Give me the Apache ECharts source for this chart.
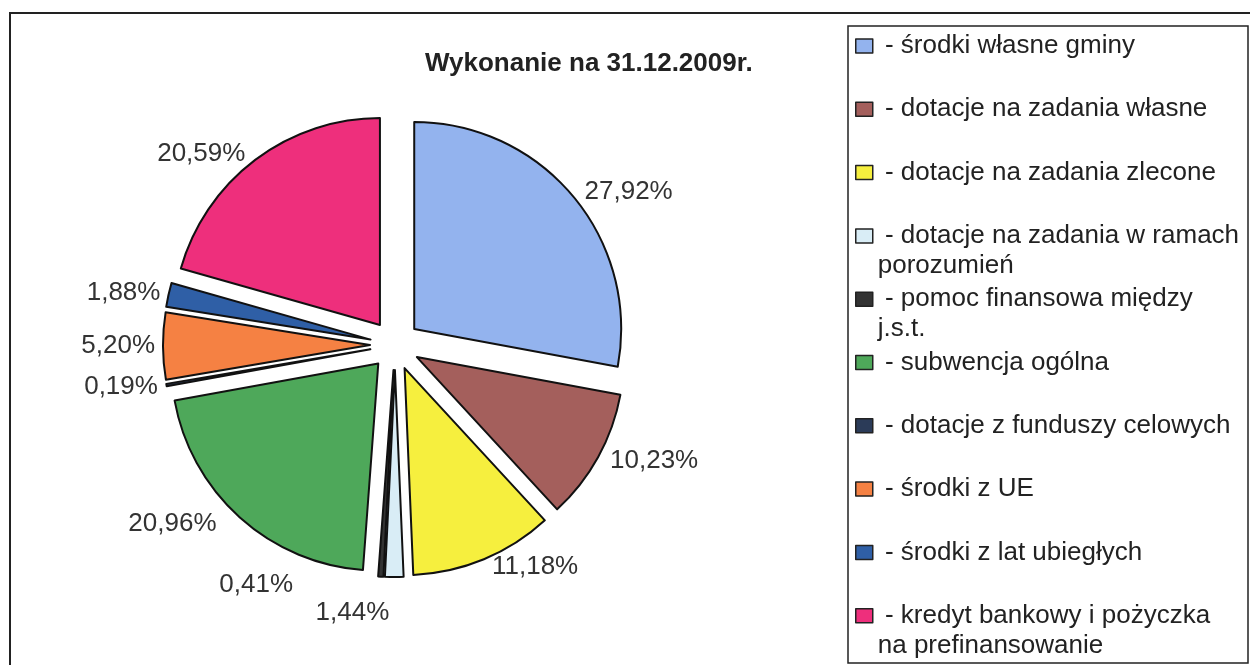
<!DOCTYPE html>
<html>
<head>
<meta charset="utf-8">
<title>Wykonanie na 31.12.2009r.</title>
<script src="https://cdn.jsdelivr.net/npm/echarts@6/dist/echarts.min.js"></script>
<style>
    html, body { margin: 0; padding: 0; background: #fff; }
    #chart1 { width: 1250px; height: 665px; }
</style>
</head>
<body>
<div id="chart1"></div>
<script>
// kategorie (kolejnosc jak w legendzie, zgodnie z ruchem wskazowek zegara)
var categories = [
    'środki własne gminy',
    'dotacje na zadania własne',
    'dotacje na zadania zlecone',
    'dotacje na zadania w ramach\nporozumień',
    'pomoc finansowa między\nj.s.t.',
    'subwencja ogólna',
    'dotacje z funduszy celowych',
    'środki z UE',
    'środki z lat ubiegłych',
    'kredyt bankowy i pożyczka\nna prefinansowanie'
];
// udzial procentowy
var shares = [27.92, 10.23, 11.18, 1.44, 0.41, 20.96, 0.19, 5.20, 1.88, 20.59];
var colors = ['#93b3ee', '#a45f5c', '#f6ef3e', '#d9edf6', '#333333',
    '#4ea85a', '#2b3b58', '#f58143', '#2f5fa6', '#ee2f7c'];

var chart1 = echarts.init(document.getElementById('chart1'));

var pieData = [];
for (var i = 0; i < categories.length; i++) {
    pieData.push({name: categories[i], value: shares[i], selected: true});
}

var option = {
    animation: false,
    color: colors,
    title: {
        text: 'Wykonanie na 31.12.2009r.',
        left: 425,
        top: 51,
        padding: 0,
        textStyle: {
            fontFamily: 'Liberation Sans',
            fontWeight: 'bold',
            fontSize: 26,
            color: '#222'
        }
    },
    legend: {
        orient: 'vertical',
        left: 855,
        top: 1,
        height: 664,
        padding: 0,
        itemGap: -26.7,
        itemWidth: 17,
        itemHeight: 14,
        icon: 'rect',
        selectedMode: false,
        itemStyle: {borderColor: '#222', borderWidth: 1.5},
        data: categories,
        // 3 linie (pierwsza pusta), zeby pierwsza linia tekstu byla na wysokosci ikony
        formatter: function (name) {
            return name.indexOf('\n') < 0 ? '\n - ' + name + '\n ' : '\n - ' + name;
        },
        textStyle: {
            fontFamily: 'Liberation Sans',
            fontSize: 26,
            lineHeight: 30,
            color: '#222'
        }
    },
    graphic: [
        {   // ramka wykresu
            type: 'rect',
            silent: true,
            shape: {x: 10, y: 13, width: 1260, height: 670},
            style: {fill: null, stroke: '#222', lineWidth: 2}
        },
        {   // ramka legendy
            type: 'rect',
            silent: true,
            shape: {x: 848, y: 26, width: 400, height: 637},
            style: {fill: null, stroke: '#222', lineWidth: 1.5}
        }
    ],
    series: [
        {
            name: 'Wykonanie',
            type: 'pie',
            center: [395, 345],
            radius: 207,
            startAngle: 90,
            clockwise: true,
            selectedMode: 'multiple',
            selectedOffset: 25,
            avoidLabelOverlap: true,
            itemStyle: {borderColor: '#111', borderWidth: 2},
            label: {
                show: true,
                position: 'outside',
                fontFamily: 'Liberation Sans',
                fontSize: 26,
                color: '#333',
                formatter: function (p) {
                    return p.value.toFixed(2).replace('.', ',') + '%';
                }
            },
            labelLine: {show: false, length: 8, length2: 0},
            emphasis: {disabled: true},
            data: pieData
        }
    ]
};

chart1.setOption(option);
</script>
</body>
</html>
